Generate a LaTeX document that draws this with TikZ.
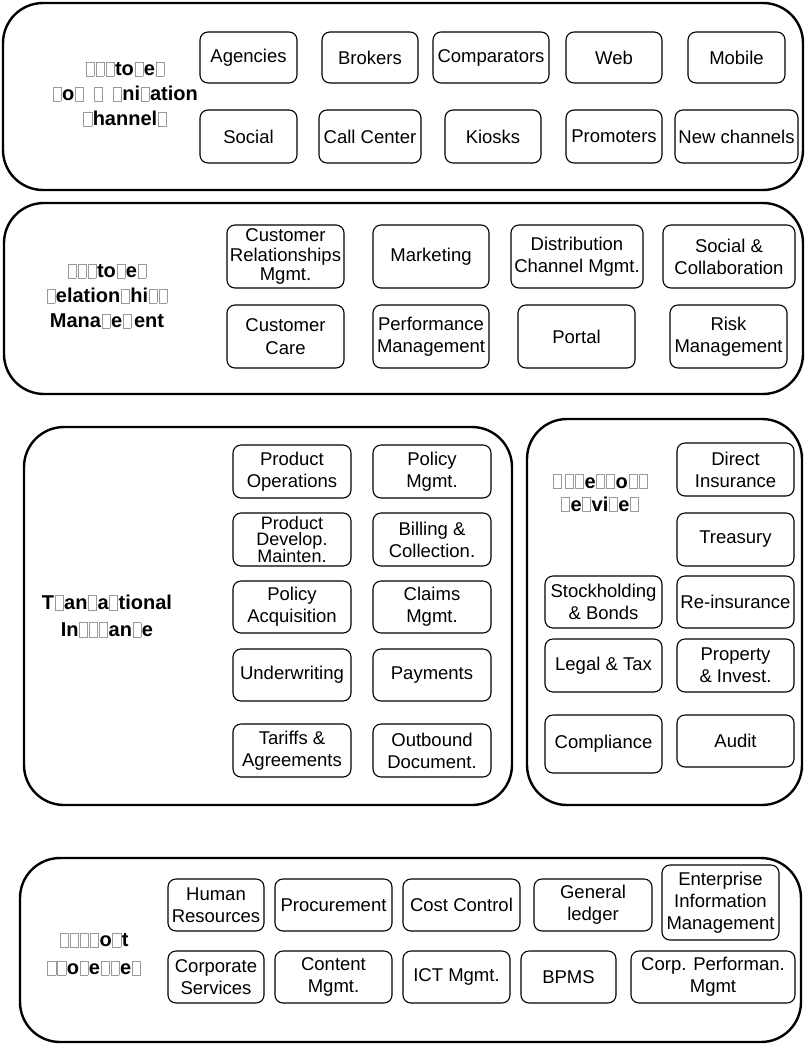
\documentclass[tikz,border=0pt]{standalone}
\usepackage{fontspec}
\setmainfont{Liberation Sans}
% a missing-glyph placeholder box, and one with the wider advance of an "m"
\newcommand\tf{\makebox[.5em]{\textcolor{black!40}{\fboxsep0pt\fboxrule.5pt\fbox{\rule{0pt}{.68em}\rule{.38em}{0pt}}}}}
\newcommand\tfm{\tf\hspace{.45em}}
\tikzset{
  outerbox/.style={draw, line width=2.4pt, rounded corners=40pt, inner sep=0pt},
  ib/.style={draw, line width=1.1pt, rounded corners=8pt, inner sep=0pt, align=center,
             font=\fontsize{18.5}{22}\selectfont},
  hd/.style={align=center, font=\fontsize{20}{25}\selectfont\bfseries}
}
\begin{document}
\begin{tikzpicture}[x=1pt,y=-1pt]
\useasboundingbox (0,0) rectangle (805,1045);

% --- channels band ---
\node[outerbox, minimum width=800, minimum height=187] (chan) at (403,96.5) {};
\node[hd] (chanT) at (125,94) {\tf\tf\tf to\tf e\tf\\ \tf o\tfm\tfm\tf ni\tf ation\\ \tf hannel\tf};
\node[ib, minimum width=97, minimum height=51] (agencies) at (248.5,57.5) {Agencies};
\node[ib, minimum width=96, minimum height=51] (brokers) at (370,57.5) {Brokers};
\node[ib, minimum width=116, minimum height=51] (comparators) at (491,57.5) {Comparators};
\node[ib, minimum width=96, minimum height=51] (web) at (614,57.5) {Web};
\node[ib, minimum width=97, minimum height=51] (mobile) at (736.5,57.5) {Mobile};
\node[ib, minimum width=97, minimum height=53] (social) at (248.5,136.5) {Social};
\node[ib, minimum width=102, minimum height=53] (callcenter) at (370,136.5) {Call Center};
\node[ib, minimum width=96, minimum height=53] (kiosks) at (493,136.5) {Kiosks};
\node[ib, minimum width=96, minimum height=53] (promoters) at (614,136.5) {Promoters};
\node[ib, minimum width=123, minimum height=53] (newch) at (736.5,136.5) {New channels};

% --- relationship management band ---
\node[outerbox, minimum width=799, minimum height=191] (crm) at (403.5,298.5) {};
\node[hd] (crmT) at (107,296) {\tf\tf\tf to\tf e\tf\\ \tf elation\tf hi\tf\tf\\ Mana\tf e\tf\hspace{.1em}ent};
\node[ib, minimum width=117, minimum height=63, font=\fontsize{18.5}{19.5}\selectfont] (custrel) at (285.5,256.5) {Customer\\Relationships\\Mgmt.};
\node[ib, minimum width=116, minimum height=63] (marketing) at (431,256.5) {Marketing};
\node[ib, minimum width=132, minimum height=63] (distrib) at (577,256.5) {Distribution\\Channel Mgmt.};
\node[ib, minimum width=132, minimum height=63] (socialcol) at (729,256.5) {Social \&\\Collaboration};
\node[ib, minimum width=117, minimum height=63, font=\fontsize{18.5}{23}\selectfont] (custcare) at (285.5,336.5) {Customer\\Care};
\node[ib, minimum width=116, minimum height=63] (perf) at (431,336.5) {Performance\\Management};
\node[ib, minimum width=117, minimum height=63] (portal) at (576.5,336.5) {Portal};
\node[ib, minimum width=117, minimum height=63] (risk) at (728.5,336.5) {Risk\\Management};

% --- transactional band ---
\node[outerbox, minimum width=488, minimum height=378] (trans) at (268,616) {};
\node[hd, font=\fontsize{20}{27}\selectfont\bfseries] (transT) at (107,616) {T\tf an\tf a\tf tional\\ In\tf\tf\tf an\tf e};
\node[ib, minimum width=118, minimum height=53] (prodops) at (292,471.5) {Product\\Operations};
\node[ib, minimum width=118, minimum height=53] (polmgmt) at (432,471.5) {Policy\\Mgmt.};
\node[ib, minimum width=118, minimum height=53, font=\fontsize{18}{16}\selectfont] (proddev) at (292,539.5) {Product\\Develop.\\Mainten.};
\node[ib, minimum width=118, minimum height=53] (billing) at (432,539.5) {Billing \&\\Collection.};
\node[ib, minimum width=118, minimum height=52] (polacq) at (292,607) {Policy\\Acquisition};
\node[ib, minimum width=118, minimum height=52] (claims) at (432,607) {Claims\\Mgmt.};
\node[ib, minimum width=118, minimum height=52] (underw) at (292,675) {Underwriting};
\node[ib, minimum width=118, minimum height=52] (payments) at (432,675) {Payments};
\node[ib, minimum width=118, minimum height=53] (tariffs) at (292,750.5) {Tariffs \&\\Agreements};
\node[ib, minimum width=118, minimum height=53] (outbound) at (432,750.5) {Outbound\\Document.};

% --- services band ---
\node[outerbox, minimum width=275, minimum height=386] (serv) at (664.5,612) {};
\node[hd, font=\fontsize{20}{23}\selectfont\bfseries] (servT) at (600,493) {\tf\hspace{.12em}\tf\tf e\tf\tf o\tf\tf\\ \tf e\tf vi\tf e\tf};
\node[ib, minimum width=117, minimum height=53] (direct) at (735.5,469.5) {Direct\\Insurance};
\node[ib, minimum width=117, minimum height=53] (treasury) at (735.5,539.5) {Treasury};
\node[ib, minimum width=117, minimum height=52] (stock) at (603.5,602) {Stockholding\\\& Bonds};
\node[ib, minimum width=117, minimum height=52] (reins) at (735.5,602) {Re-insurance};
\node[ib, minimum width=117, minimum height=53] (legal) at (603.5,665.5) {Legal \& Tax};
\node[ib, minimum width=117, minimum height=53] (property) at (735.5,665.5) {Property\\\& Invest.};
\node[ib, minimum width=117, minimum height=58] (compliance) at (603.5,744) {Compliance};
\node[ib, minimum width=117, minimum height=52] (audit) at (735.5,741) {Audit};

% --- support band ---
\node[outerbox, minimum width=781, minimum height=184] (supp) at (410.5,950) {};
\node[hd, font=\fontsize{20}{28}\selectfont\bfseries] (suppT) at (94,954) {\tf\tf\tf\tf o\tf t\\ \tf\tf o\tf e\tf\tf e\tf};
\node[ib, minimum width=96, minimum height=52] (hr) at (216,905) {Human\\Resources};
\node[ib, minimum width=117, minimum height=52] (procure) at (333.5,905) {Procurement};
\node[ib, minimum width=117, minimum height=52] (cost) at (461.5,905) {Cost Control};
\node[ib, minimum width=118, minimum height=52] (ledger) at (593,905) {General\\ledger};
\node[ib, minimum width=117, minimum height=75] (eim) at (720.5,902.5) {Enterprise\\Information\\Management};
\node[ib, minimum width=96, minimum height=52] (corpserv) at (216,977) {Corporate\\Services};
\node[ib, minimum width=117, minimum height=52] (content) at (333.5,977) {Content\\Mgmt.};
\node[ib, minimum width=107, minimum height=52] (ict) at (456.5,977) {ICT Mgmt.};
\node[ib, minimum width=95, minimum height=52] (bpms) at (568.5,977) {BPMS};
\node[ib, minimum width=164, minimum height=52] (corpperf) at (713,977) {Corp. Performan.\\Mgmt};
\end{tikzpicture}
\end{document}
